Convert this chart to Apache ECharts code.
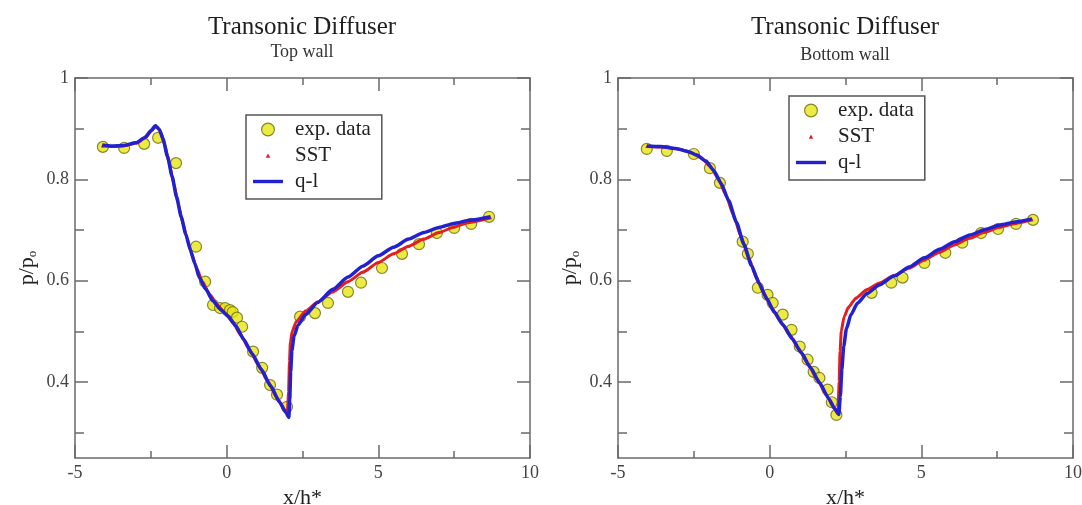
<!DOCTYPE html>
<html>
<head>
<meta charset="utf-8">
<title>Transonic Diffuser</title>
<script src="https://cdn.jsdelivr.net/npm/echarts@6/dist/echarts.min.js"></script>
<style>
  html, body { margin: 0; padding: 0; background: #fff; }
  #chart { width: 1082px; height: 505px; }
</style>
</head>
<body>
<div id="chart"></div>
<script>
// Wall pressure ratio p/p0 along the transonic diffuser, x/h*.
const panelTitles = ['Top wall', 'Bottom wall'];
const xTicks = [-5, 0, 5, 10];
const yTickLabels = [0.4, 0.6, 0.8, 1];
const yMinorTicks = [0.3, 0.5, 0.7, 0.9];

// Top wall
const topExp = [
  [-4.08,0.864],[-3.38,0.862],[-2.72,0.870],[-2.26,0.882],[-1.67,0.832],[-1.01,0.667],
  [-0.71,0.598],[-0.45,0.552],[-0.22,0.546],[-0.05,0.546],[0.11,0.542],[0.20,0.538],
  [0.34,0.527],[0.51,0.509],[0.87,0.460],[1.17,0.428],[1.43,0.394],[1.66,0.375],
  [1.99,0.351],[2.42,0.529],[2.91,0.536],[3.34,0.556],[4.00,0.578],[4.43,0.596],
  [5.12,0.625],[5.78,0.653],[6.34,0.672],[6.93,0.694],[7.50,0.704],[8.06,0.712],[8.65,0.726]
];
const topSST = [
  [-4.10,0.866],[-3.70,0.865],[-3.30,0.867],[-2.95,0.872],[-2.65,0.884],[-2.45,0.898],
  [-2.33,0.904],[-2.20,0.896],[-2.05,0.870],[-1.90,0.833],[-1.75,0.793],[-1.60,0.752],
  [-1.45,0.715],[-1.30,0.682],[-1.15,0.652],[-1.00,0.626],[-0.80,0.598],[-0.55,0.572],
  [-0.30,0.552],[-0.05,0.535],[0.20,0.518],[0.45,0.494],[0.75,0.464],[1.05,0.433],
  [1.35,0.402],[1.65,0.370],[1.90,0.345],[2.00,0.338],[2.04,0.380],[2.07,0.440],
  [2.10,0.478],[2.16,0.500],[2.30,0.520],[2.60,0.540],[3.00,0.558],[3.50,0.578],
  [4.00,0.598],[4.50,0.617],[5.00,0.636],[5.50,0.653],[6.00,0.668],[6.50,0.682],
  [7.00,0.695],[7.50,0.706],[8.00,0.715],[8.70,0.724]
];
const topQL = [
  [-4.10,0.868],[-3.80,0.866],[-3.40,0.867],[-3.00,0.872],[-2.70,0.882],[-2.50,0.896],
  [-2.35,0.906],[-2.22,0.899],[-2.10,0.880],[-1.95,0.845],[-1.80,0.806],[-1.65,0.765],
  [-1.50,0.726],[-1.35,0.692],[-1.20,0.661],[-1.05,0.634],[-0.90,0.606],[-0.70,0.584],
  [-0.45,0.560],[-0.20,0.543],[0.05,0.530],[0.30,0.511],[0.55,0.485],[0.85,0.455],
  [1.15,0.424],[1.45,0.392],[1.75,0.360],[1.95,0.340],[2.05,0.330],[2.08,0.365],
  [2.11,0.420],[2.15,0.462],[2.22,0.490],[2.35,0.512],[2.60,0.533],[3.00,0.557],
  [3.50,0.583],[4.00,0.607],[4.50,0.629],[5.00,0.649],[5.50,0.666],[6.00,0.682],
  [6.50,0.695],[7.00,0.705],[7.50,0.713],[8.00,0.719],[8.70,0.726]
];

// Bottom wall
const bottomExp = [
  [-4.05,0.860],[-3.39,0.856],[-2.50,0.850],[-1.97,0.822],[-1.64,0.793],[-0.89,0.677],
  [-0.72,0.653],[-0.39,0.586],[-0.07,0.572],[0.10,0.556],[0.43,0.533],[0.72,0.503],
  [0.99,0.470],[1.25,0.444],[1.45,0.420],[1.64,0.408],[1.91,0.385],[2.05,0.360],[2.20,0.335],
  [3.36,0.576],[4.01,0.596],[4.38,0.606],[5.10,0.635],[5.79,0.655],[6.35,0.675],
  [6.97,0.694],[7.53,0.702],[8.12,0.712],[8.68,0.720]
];
const bottomSST = [
  [-4.05,0.865],[-3.50,0.864],[-3.00,0.860],[-2.60,0.853],[-2.25,0.842],[-1.95,0.825],
  [-1.70,0.802],[-1.45,0.770],[-1.20,0.730],[-0.95,0.688],[-0.70,0.646],[-0.45,0.608],
  [-0.20,0.576],[0.05,0.548],[0.35,0.520],[0.65,0.494],[0.95,0.466],[1.25,0.437],
  [1.55,0.407],[1.85,0.377],[2.10,0.350],[2.25,0.338],[2.29,0.400],[2.32,0.460],
  [2.36,0.500],[2.45,0.528],[2.60,0.548],[2.85,0.566],[3.20,0.582],[3.60,0.595],
  [4.10,0.610],[4.60,0.625],[5.10,0.641],[5.60,0.656],[6.10,0.671],[6.60,0.684],
  [7.10,0.696],[7.60,0.706],[8.10,0.713],[8.65,0.720]
];
const bottomQL = [
  [-4.05,0.866],[-3.60,0.865],[-3.10,0.861],[-2.70,0.855],[-2.40,0.848],[-2.10,0.836],
  [-1.85,0.818],[-1.60,0.792],[-1.35,0.758],[-1.10,0.716],[-0.85,0.672],[-0.60,0.630],
  [-0.35,0.595],[-0.10,0.565],[0.15,0.538],[0.45,0.512],[0.75,0.485],[1.05,0.457],
  [1.35,0.428],[1.65,0.398],[1.95,0.367],[2.15,0.347],[2.28,0.336],[2.33,0.372],
  [2.38,0.425],[2.44,0.470],[2.53,0.505],[2.68,0.533],[2.90,0.556],[3.20,0.574],
  [3.60,0.591],[4.10,0.609],[4.60,0.627],[5.10,0.645],[5.60,0.662],[6.10,0.677],
  [6.60,0.690],[7.10,0.701],[7.60,0.710],[8.10,0.716],[8.65,0.722]
];

const panels = [
  { exp: topExp, sst: topSST, ql: topQL },
  { exp: bottomExp, sst: bottomSST, ql: bottomQL }
];

const SERIF = '"Liberation Serif", "DejaVu Serif", serif';
const AXIS_COLOR = '#6a6a6a';
const EXP_FILL = '#e6e614';
const EXP_BORDER = '#6b6b12';
const SST_RED = '#e41e1e';
const QL_BLUE = '#2121cf';

const gridBoxes = [
  { left: 75, top: 78, width: 455, height: 380, cx: 302 },
  { left: 618, top: 78, width: 455, height: 380, cx: 845 }
];
const legendBoxes = [ { left: 246, top: 115 }, { left: 789, top: 96 } ];

const chart = echarts.init(document.getElementById('chart'), null, { renderer: 'canvas' });

const grid = [], xAxis = [], yAxis = [], series = [], legend = [], graphic = [];

const lineStyle = { color: AXIS_COLOR, width: 1.5 };
const yFmt = v => (Math.abs(v - 1) < 1e-9 ? '1' : v.toFixed(1));

panels.forEach((p, i) => {
  const g = gridBoxes[i];
  grid.push({ left: g.left, top: g.top, width: g.width, height: g.height, outerBoundsMode: 'none' });

  const xBase = {
    type: 'value', gridIndex: i, min: xTicks[0], max: xTicks[xTicks.length - 1],
    interval: xTicks[1] - xTicks[0],
    axisLine: { show: true, onZero: false, lineStyle },
    axisTick: { show: true, inside: true, length: 13, lineStyle },
    minorTick: { show: true, splitNumber: 2, length: 7, lineStyle },
    splitLine: { show: false }
  };
  xAxis.push(Object.assign({}, xBase, {
    position: 'bottom',
    axisLabel: { show: true, color: '#444', fontSize: 18, fontFamily: SERIF, margin: 6 },
    name: 'x/h*', nameLocation: 'middle', nameGap: 24,
    nameTextStyle: { fontSize: 22, fontFamily: SERIF, color: '#222' }
  }));
  xAxis.push(Object.assign({}, xBase, { position: 'top', axisLabel: { show: false } }));

  const yBase = {
    type: 'value', gridIndex: i, min: 0.25, max: 1,
    splitLine: { show: false }, minorTick: { show: false }
  };
  // left: major ticks with labels
  yAxis.push(Object.assign({}, yBase, {
    position: 'left',
    axisLine: { show: true, onZero: false, lineStyle },
    axisTick: { show: true, inside: true, length: 13, lineStyle, customValues: yTickLabels },
    axisLabel: { show: true, color: '#444', fontSize: 18, fontFamily: SERIF, margin: 6,
                 customValues: yTickLabels, formatter: yFmt },
    name: '{a|p/p}{b|o}', nameLocation: 'middle', nameGap: 36,
    nameTextStyle: {
      color: '#222', fontFamily: SERIF,
      rich: {
        a: { fontSize: 22, fontFamily: SERIF, color: '#222' },
        b: { fontSize: 13, fontFamily: SERIF, color: '#222', padding: [10, 0, 0, 0] }
      }
    }
  }));
  // left: minor ticks
  yAxis.push(Object.assign({}, yBase, {
    position: 'left',
    axisLine: { show: false, onZero: false },
    axisTick: { show: true, inside: true, length: 9, lineStyle, customValues: yMinorTicks },
    axisLabel: { show: false }
  }));
  // right frame: major and minor ticks
  yAxis.push(Object.assign({}, yBase, {
    position: 'right',
    axisLine: { show: true, onZero: false, lineStyle },
    axisTick: { show: true, inside: true, length: 13, lineStyle, customValues: yTickLabels },
    axisLabel: { show: false }
  }));
  yAxis.push(Object.assign({}, yBase, {
    position: 'right',
    axisLine: { show: false, onZero: false },
    axisTick: { show: true, inside: true, length: 9, lineStyle, customValues: yMinorTicks },
    axisLabel: { show: false }
  }));

  const xi = i * 2, yi = i * 4;
  series.push({
    name: 'exp. data', type: 'scatter', xAxisIndex: xi, yAxisIndex: yi,
    data: p.exp, symbol: 'circle', symbolSize: 11, z: 2,
    itemStyle: { color: EXP_FILL, borderColor: EXP_BORDER, borderWidth: 1.2 }
  });
  series.push({
    name: 'SST', type: 'line', xAxisIndex: xi, yAxisIndex: yi,
    data: p.sst, smooth: 0.2, smoothMonotone: 'x',
    symbol: 'triangle', symbolSize: 3, showSymbol: true, z: 3,
    lineStyle: { color: SST_RED, width: 3 },
    itemStyle: { color: SST_RED }
  });
  series.push({
    name: 'q-l', type: 'line', xAxisIndex: xi, yAxisIndex: yi,
    data: p.ql, smooth: 0.2, smoothMonotone: 'x',
    symbol: 'none', z: 4,
    lineStyle: { color: QL_BLUE, width: 3.5 },
    itemStyle: { color: QL_BLUE }
  });

  const lb = legendBoxes[i];
  legend.push({
    left: lb.left, top: lb.top, orient: 'vertical',
    selectedMode: false,
    backgroundColor: '#fff', borderColor: '#555', borderWidth: 1.5, borderRadius: 0,
    padding: [4, 11, 7, 7],
    itemWidth: 30, itemHeight: 14, itemGap: 5,
    textStyle: { fontFamily: SERIF, fontSize: 21, color: '#222', lineHeight: 14, padding: [0, 0, 0, 7] },
    data: [
      { name: 'exp. data', icon: 'path://M0,0M12,12M6,0.5A5.5,5.5,0,1,1,5.99,0.5Z',
        itemStyle: { color: EXP_FILL, borderColor: EXP_BORDER, borderWidth: 1.2 } },
      { name: 'SST', icon: 'path://M0,0M10,10M3.4,6.6L5,3.6L6.6,6.6Z',
        itemStyle: { color: SST_RED, borderWidth: 0 } },
      { name: 'q-l', icon: 'path://M0,0L30,0L30,3.4L0,3.4Z',
        itemStyle: { color: QL_BLUE, borderWidth: 0 } }
    ]
  });

  graphic.push({
    type: 'text', x: g.cx, y: 27,
    style: { text: 'Transonic Diffuser', font: '25px ' + SERIF, fill: '#1e1e1e',
             textAlign: 'center', textVerticalAlign: 'middle' }
  });
  graphic.push({
    type: 'text', x: g.cx, y: i === 0 ? 52 : 55,
    style: { text: panelTitles[i], font: '18px ' + SERIF, fill: '#333',
             textAlign: 'center', textVerticalAlign: 'middle' }
  });
});

chart.setOption({
  backgroundColor: '#fff',
  animation: false,
  grid, xAxis, yAxis, series, legend, graphic
});
</script>
</body>
</html>
